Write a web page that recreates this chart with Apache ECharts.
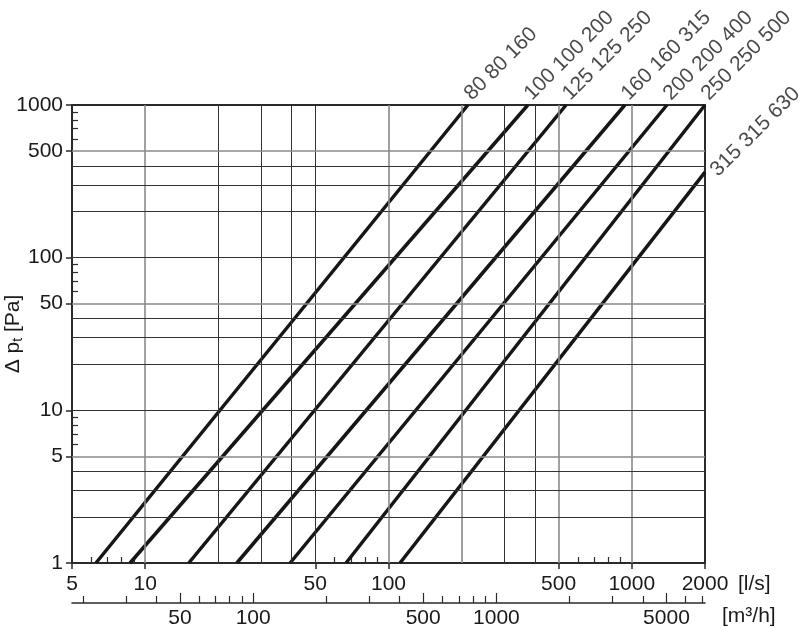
<!DOCTYPE html>
<html><head><meta charset="utf-8">
<script src="https://cdn.jsdelivr.net/npm/echarts@6/dist/echarts.min.js"></script>
<style>html,body{margin:0;padding:0;background:#fff}#c{width:805px;height:628px}</style>
</head><body><div id="c"></div>
<script>
// ---- data ----
const seriesNames = ['80 80 160','100 100 200','125 125 250','160 160 315','200 200 400','250 250 500','315 315 630'];
const flowAtStart = [6.27, 8.66, 15.1, 23.8, 39.4, 66.9, 111.5];   // l/s
const pressureAtStart = [1, 1, 1, 1, 1, 1, 1];                       // Pa
const flowAtEnd = [212, 374, 537, 937, 1395, 2000, 2000];           // l/s
const pressureAtEnd = [1000, 1000, 1000, 1000, 1000, 1000, 363];    // Pa
const xTickLabels = [5, 10, 50, 100, 500, 1000, 2000];
const xMinorTicks = [6, 7, 8, 9, 60, 70, 80, 90, 600, 700, 800, 900];
const m3hTickLabels = [50, 100, 500, 1000, 5000];
const m3hMinorTicks = [20, 30, 40, 60, 70, 80, 90, 200, 300, 400, 600, 700, 800, 900, 2000, 3000, 4000, 6000, 7000];
const yTickLabels = [1, 5, 10, 50, 100, 500, 1000];
const yMinorTicks = [6, 7, 8, 9, 60, 70, 80, 90, 600, 700, 800, 900];
const xGridGray = [10, 100, 200, 500, 1000];
const xGridDark = [20, 30, 40, 50, 300, 400];
const yGridGray = [5, 50, 500];
const yGridDark = [2, 3, 4, 10, 20, 30, 40, 100, 200, 300, 400];
const lsMin = 5, lsMax = 2000, m3hMin = 18, m3hMax = 7200, paMin = 1, paMax = 1000;

// ---- chart ----
const font = "'Liberation Sans', Arial, Helvetica, sans-serif";
const txt = '#1a1a1a';
const axisCol = '#2a2a2a';
const fmt = v => String(Math.round(v));
const labelStyle = (extra) => Object.assign({fontSize: 21, color: txt, fontFamily: font, formatter: fmt}, extra);

const xAxes = [
  { type: 'log', min: lsMin, max: lsMax, position: 'bottom',
    axisLine: {show: true, lineStyle: {color: axisCol, width: 2}},
    axisTick: {show: true, inside: false, length: 6, customValues: xTickLabels, lineStyle: {color: axisCol, width: 1.5}},
    axisLabel: labelStyle({customValues: xTickLabels, margin: 11}),
    splitLine: {show: false}, minorTick: {show: false},
    name: '[l/s]', nameLocation: 'end', nameGap: 33, nameMoveOverlap: false,
    nameTextStyle: {fontSize: 21, color: txt, fontFamily: font, verticalAlign: 'top', padding: [11, 0, 0, 0]} },
  { type: 'log', min: lsMin, max: lsMax, position: 'bottom',
    axisLine: {show: false},
    axisTick: {show: true, inside: true, length: 6, customValues: xMinorTicks, lineStyle: {color: axisCol, width: 1.2}},
    axisLabel: {show: false}, splitLine: {show: false} },
  { type: 'log', min: lsMin, max: lsMax, position: 'top',
    axisLine: {show: true, lineStyle: {color: axisCol, width: 2}},
    axisTick: {show: false}, axisLabel: {show: false}, splitLine: {show: false} },
  { type: 'log', min: m3hMin, max: m3hMax, position: 'bottom', offset: 40,
    axisLine: {show: true, lineStyle: {color: axisCol, width: 1.5}},
    axisTick: {show: true, inside: true, length: 10, customValues: m3hTickLabels, lineStyle: {color: axisCol, width: 1.2}},
    axisLabel: labelStyle({customValues: m3hTickLabels, margin: 5}),
    splitLine: {show: false},
    name: '[m³/h]', nameLocation: 'end', nameGap: 17, nameMoveOverlap: false,
    nameTextStyle: {fontSize: 21, color: txt, fontFamily: font, verticalAlign: 'top', padding: [3, 0, 0, 0]} },
  { type: 'log', min: m3hMin, max: m3hMax, position: 'bottom', offset: 40,
    axisLine: {show: false},
    axisTick: {show: true, inside: true, length: 7, customValues: m3hMinorTicks, lineStyle: {color: axisCol, width: 1.2}},
    axisLabel: {show: false}, splitLine: {show: false} }
];

const yAxes = [
  { type: 'log', min: paMin, max: paMax, position: 'left',
    axisLine: {show: true, lineStyle: {color: axisCol, width: 2}},
    axisTick: {show: true, inside: false, length: 6, customValues: yTickLabels, lineStyle: {color: axisCol, width: 1.5}},
    axisLabel: labelStyle({customValues: yTickLabels, margin: 9}),
    splitLine: {show: false},
    name: '{a|Δ p}{s|t}{a| [Pa]}', nameLocation: 'middle', nameGap: 47, nameRotate: 90, nameMoveOverlap: false,
    nameTextStyle: {rich: {
      a: {fontSize: 21, color: txt, fontFamily: font, lineHeight: 24},
      s: {fontSize: 14, color: txt, fontFamily: font, lineHeight: 14, verticalAlign: 'bottom'}
    }} },
  { type: 'log', min: paMin, max: paMax, position: 'left',
    axisLine: {show: false},
    axisTick: {show: true, inside: true, length: 6, customValues: yMinorTicks, lineStyle: {color: axisCol, width: 1.2}},
    axisLabel: {show: false}, splitLine: {show: false} },
  { type: 'log', min: paMin, max: paMax, position: 'right',
    axisLine: {show: true, lineStyle: {color: axisCol, width: 2}},
    axisTick: {show: false}, axisLabel: {show: false}, splitLine: {show: false} }
];

const gridLines = [].concat(
  xGridGray.map(v => ({xAxis: v, lineStyle: {color: '#8a8a8a', width: 1.6, type: 'solid'}})),
  xGridDark.map(v => ({xAxis: v, lineStyle: {color: '#333', width: 1, type: 'solid'}})),
  yGridGray.map(v => ({yAxis: v, lineStyle: {color: '#8a8a8a', width: 1.6, type: 'solid'}})),
  yGridDark.map(v => ({yAxis: v, lineStyle: {color: '#333', width: 1, type: 'solid'}}))
);

const series = [
  { type: 'line', name: 'grid', data: [], xAxisIndex: 0, yAxisIndex: 0, z: 1, silent: true,
    markLine: {silent: true, symbol: ['none', 'none'], label: {show: false}, animation: false, data: gridLines} }
];
seriesNames.forEach((n, i) => {
  series.push({
    type: 'line', name: n, xAxisIndex: 0, yAxisIndex: 0, z: 3,
    symbol: 'none', clip: true,
    lineStyle: {color: '#161616', width: 3.5},
    data: [[flowAtStart[i], pressureAtStart[i]], [flowAtEnd[i], pressureAtEnd[i]]]
  });
});
series.push({
  type: 'scatter', name: 'labels', xAxisIndex: 0, yAxisIndex: 0, z: 4, clip: false,
  symbolSize: 0, silent: true,
  data: seriesNames.map((n, i) => {
    const last = i === seriesNames.length - 1;
    return {
      name: n, value: [flowAtEnd[i], pressureAtEnd[i]],
      label: {position: last ? [9, 1] : [0, -8]}
    };
  }),
  label: {show: true, formatter: p => p.name, rotate: 45, align: 'left', verticalAlign: 'middle',
    fontSize: 21, color: txt, fontFamily: font}
});

const chart = echarts.init(document.getElementById('c'), null, {renderer: 'canvas'});
chart.setOption({
  animation: false,
  backgroundColor: '#fff',
  grid: {left: 72, right: 100, top: 105, bottom: 65, containLabel: false, outerBoundsMode: 'none'},
  xAxis: xAxes,
  yAxis: yAxes,
  series: series
});
</script>
</body></html>
